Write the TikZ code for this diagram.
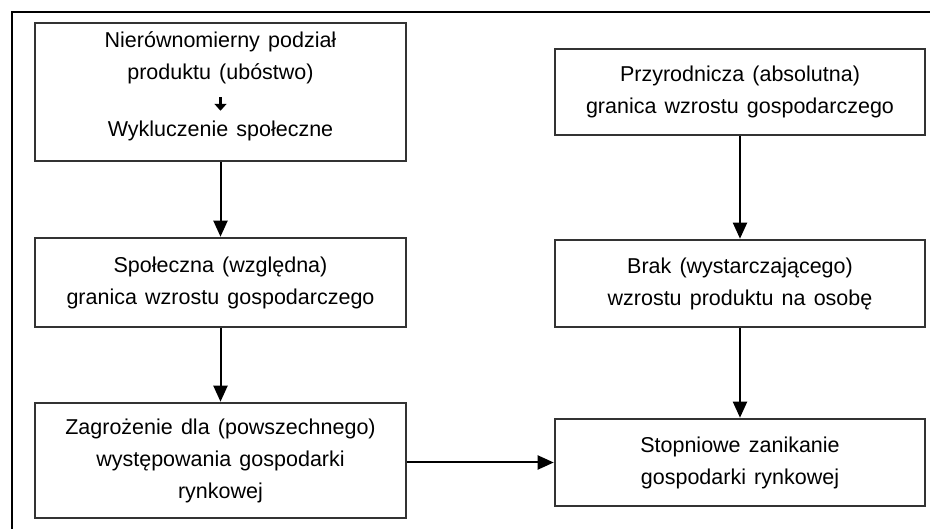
\documentclass[tikz,border=0pt]{standalone}
\usepackage{fontspec}
\setmainfont{Liberation Sans}
\usetikzlibrary{arrows.meta,positioning}

\newcommand{\boxfont}{\fontsize{21.5}{32}\selectfont\spaceskip=0.38em\relax}

\begin{document}
\begin{tikzpicture}[
  x=1pt, y=-1pt,
  font=\boxfont,
  frame/.style={line width=2pt, draw=black},
  box/.style={draw=black!80, line width=2.6pt, minimum width=371pt, align=center, inner sep=0pt},
  txt/.style={align=center, inner sep=0pt},
  conn/.style={-{Triangle[length=16pt, width=14pt]}, line width=2pt},
  smallconn/.style={-{Triangle[length=7pt, width=12pt]}, line width=2.8pt, shorten <=13pt, shorten >=10pt}
]
\useasboundingbox (0,0) rectangle (930,529);

% Frame
\draw[frame] (12,529) -- (12,12) -- (930,12);

% Left column
\node[box, minimum height=138pt] (ubostwo) at (220.5,92) {};
\node[txt] (podzial) at (220.5,58) {Nierównomierny podział\\produktu (ubóstwo)};
\node[txt] (wyklucz) at (220.5,131) {Wykluczenie społeczne};
\node[box, minimum height=89pt] (spoleczna) at (220.5,282.5) {Społeczna (względna)\\granica wzrostu gospodarczego};
\node[box, minimum height=115pt] (zagrozenie) at (220.5,460.5) {Zagrożenie dla (powszechnego)\\występowania gospodarki\\rynkowej};

% Right column
\node[box, minimum width=370pt, minimum height=86pt] (przyrodnicza) at (740,92) {Przyrodnicza (absolutna)\\granica wzrostu gospodarczego};
\node[box, minimum width=370pt, minimum height=87pt] (brak) at (740,283.5) {Brak (wystarczającego)\\wzrostu produktu na osobę};
\node[box, minimum width=370pt, minimum height=87pt] (zanikanie) at (740,462.5) {Stopniowe zanikanie\\gospodarki rynkowej};

% Connectors
\draw[smallconn] (podzial) -- (wyklucz);
\draw[conn] (ubostwo) -- (spoleczna);
\draw[conn] (spoleczna) -- (zagrozenie);
\draw[conn] (przyrodnicza) -- (brak);
\draw[conn] (brak) -- (zanikanie);
\draw[conn] (zagrozenie.east |- zanikanie) -- (zanikanie.west);

\end{tikzpicture}
\end{document}
